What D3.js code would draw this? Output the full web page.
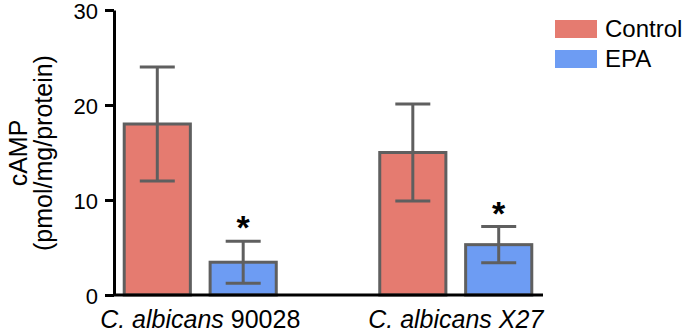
<!DOCTYPE html>
<html>
<head>
<meta charset="utf-8">
<script src="https://cdn.jsdelivr.net/npm/d3@7"></script>
<style>
  body { margin: 0; background: #fff; }
  text { font-family: "Liberation Sans", Arial, sans-serif; }
</style>
</head>
<body>
<svg width="688" height="332"></svg>
<script>
// data
const strains = ["90028", "X27"]
const strainItalic = [false, true]
const series = ["Control", "EPA"]
const controlMean = [18, 15]
const controlErr = [6, 5.1]
const epaMean = [3.45, 5.3]
const epaErr = [2.2, 1.9]
const epaStar = [true, true]
const yTicks = [0, 10, 20, 30]

const colors = {Control: "#e57b70", EPA: "#6d9cf3"}
const edge = "#5f5f5f"

let svg = d3.select("svg")

let rows = []
for (let i = 0; i < strains.length; i++) {
    rows.push({strain: strains[i], key: "Control", mean: controlMean[i], err: controlErr[i], star: false})
    rows.push({strain: strains[i], key: "EPA", mean: epaMean[i], err: epaErr[i], star: epaStar[i]})
}

let y = d3.scaleLinear().domain([0, 30]).range([295, 10])

let x0 = d3.scaleBand()
    .domain(strains)
    .range([114, 542])
    .paddingInner(0.405)
    .paddingOuter(0.04)

let x1 = d3.scaleBand()
    .domain(series)
    .range([0, x0.bandwidth()])
    .paddingInner(0.23)

// bars
svg.append("g")
    .selectAll("rect")
    .data(rows)
    .enter()
    .append("rect")
    .attr("x", d => x0(d.strain) + x1(d.key))
    .attr("y", d => y(d.mean))
    .attr("width", x1.bandwidth())
    .attr("height", d => y(0) - y(d.mean))
    .attr("fill", d => colors[d.key])
    .attr("stroke", edge)
    .attr("stroke-width", 3)

// error bars
let eb = svg.append("g")
    .selectAll("g")
    .data(rows)
    .enter()
    .append("g")
    .attr("stroke", edge)
    .attr("stroke-width", 3)

let cx = d => x0(d.strain) + x1(d.key) + x1.bandwidth() / 2
let cap = 17.5

eb.append("line")
    .attr("x1", cx).attr("x2", cx)
    .attr("y1", d => y(d.mean + d.err))
    .attr("y2", d => y(d.mean - d.err))
eb.append("line")
    .attr("x1", d => cx(d) - cap).attr("x2", d => cx(d) + cap)
    .attr("y1", d => y(d.mean + d.err)).attr("y2", d => y(d.mean + d.err))
eb.append("line")
    .attr("x1", d => cx(d) - cap).attr("x2", d => cx(d) + cap)
    .attr("y1", d => y(d.mean - d.err)).attr("y2", d => y(d.mean - d.err))

// significance stars
svg.append("g")
    .selectAll("text")
    .data(rows.filter(d => d.star))
    .enter()
    .append("text")
    .attr("x", cx)
    .attr("y", d => y(d.mean + d.err) - 2)
    .attr("text-anchor", "middle")
    .style("font-size", "34px")
    .style("font-weight", "bold")
    .text("*")

// y axis
let yAxis = svg.append("g")
    .attr("transform", "translate(114,0)")
    .call(d3.axisLeft(y).tickValues(yTicks).tickSize(9).tickSizeOuter(0).tickPadding(7))
yAxis.select(".domain").attr("stroke", "#000").attr("stroke-width", 3)
yAxis.selectAll(".tick line").attr("stroke", "#000").attr("stroke-width", 3)
yAxis.selectAll(".tick text")
    .attr("fill", "#000")
    .attr("dy", "0.38em")
    .style("font-size", "22px")
    .style("font-family", "'Liberation Sans', Arial, sans-serif")

// x baseline
svg.append("line")
    .attr("x1", 113).attr("x2", 543)
    .attr("y1", y(0)).attr("y2", y(0))
    .attr("stroke", "#000")
    .attr("stroke-width", 3)

// category labels
let cat = svg.append("g")
    .selectAll("text")
    .data(strains)
    .enter()
    .append("text")
    .attr("x", d => x0(d) + x0.bandwidth() / 2)
    .attr("y", 328)
    .attr("text-anchor", "middle")
    .style("font-size", "25px")
cat.append("tspan")
    .style("font-style", "italic")
    .text("C. albicans ")
cat.append("tspan")
    .style("font-style", (d, i) => strainItalic[i] ? "italic" : "normal")
    .text(d => d)

// y title
let title = svg.append("text")
    .attr("transform", "translate(0,153) rotate(-90)")
    .attr("text-anchor", "middle")
    .style("font-size", "25px")
title.append("tspan").attr("x", 0).attr("y", 27).text("cAMP")
title.append("tspan").attr("x", 0).attr("y", 52).text("(pmol/mg/protein)")

// legend
let legend = svg.append("g")
    .selectAll("g")
    .data(series)
    .enter()
    .append("g")
    .attr("transform", (d, i) => "translate(555," + (20 + i * 30) + ")")
legend.append("rect")
    .attr("width", 42)
    .attr("height", 18)
    .attr("fill", d => colors[d])
legend.append("text")
    .attr("x", 50)
    .attr("y", 17)
    .style("font-size", "24px")
    .text(d => d)
</script>
</body>
</html>
